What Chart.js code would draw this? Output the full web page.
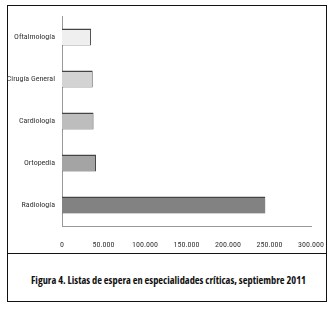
<!DOCTYPE html>
<html>
<head>
<meta charset="utf-8">
<script src="https://cdn.jsdelivr.net/npm/chart.js@4/dist/chart.umd.min.js"></script>
<style>
	body { margin:0; background:#fff; width:335px; height:309px; position:relative; overflow:hidden; }
	#marco { position:absolute; left:7px; top:5px; width:318px; height:295px; border:1.5px solid #111; }
	#linea { position:absolute; left:7px; top:253px; width:320px; height:0; border-top:1.5px solid #111; }
	#grafico { position:absolute; left:0; top:0; width:335px; height:253px; }
	#titulo { position:absolute; left:8px; top:273px; width:321px; text-align:center; white-space:nowrap;
		font-family:"Open Sans", sans-serif; font-stretch:condensed; font-weight:bold; font-size:10.4px; color:#111; }
</style>
</head>
<body>
<div id="marco"></div>
<div id="linea"></div>
<div id="grafico"><canvas id="c"></canvas></div>
<div id="titulo">Figura 4. Listas de espera en especialidades críticas, septiembre 2011</div>
<script>
const especialidades = ['Oftalmología', 'Cirugía General', 'Cardiología', 'Ortopedia', 'Radiología'];
const pacientes = [35000, 37000, 38000, 41000, 245000];
const warna = ['#efefef', '#d3d3d3', '#bdbdbd', '#a4a4a4', '#828282'];
const ticksX = [0, 50000, 100000, 150000, 200000, 250000, 300000];

const fuente = { family: '"Roboto Condensed", "DejaVu Sans Condensed", sans-serif', size: 8 };

new Chart(document.getElementById('c'), {
	type: 'bar',
	data: {
		labels: especialidades,
		datasets: [{
			data: pacientes,
			backgroundColor: warna,
			borderColor: '#444',
			borderWidth: { top: 1.5, right: 1, bottom: 0.5, left: 0 },
			borderSkipped: false,
			barPercentage: 0.8,
			categoryPercentage: 0.5,
		}]
	},
	options: {
		indexAxis: 'y',
		responsive: true,
		maintainAspectRatio: false,
		animation: false,
		layout: { padding: { top: 16, right: 24, bottom: 0, left: 0 } },
		plugins: {
			legend: { display: false },
			tooltip: { enabled: false },
		},
		scales: {
			x: {
				min: 0,
				max: 300000,
				afterBuildTicks: s => { s.ticks = ticksX.map(v => ({ value: v })) },
				grid: { display: false, drawTicks: false },
				border: { color: '#999', width: 1 },
				ticks: {
					color: '#333',
					font: fuente,
					padding: 14,
					maxRotation: 0,
					callback: v => v.toLocaleString('de-DE'),
				},
				afterFit: s => { s.height = 27; s.paddingLeft = 0; s.paddingRight = 0 },
			},
			y: {
				grid: { display: false, drawTicks: false },
				border: { color: '#999', width: 1 },
				ticks: { color: '#333', font: fuente, padding: 7 },
				afterFit: s => { s.width = 62 },
			}
		}
	}
});
</script>
</body>
</html>
